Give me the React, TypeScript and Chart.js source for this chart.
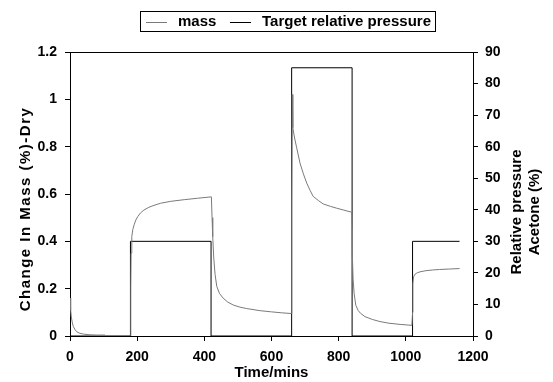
import React, { useEffect, useRef } from "react";
import { Chart, registerables } from "chart.js";

Chart.register(...registerables);

// ---- data ----
const massTime = [
  0, 2, 4, 7, 10, 15, 20, 28, 40, 60, 80, 104, 140,
  180, 181, 182, 184, 187, 191, 196, 202, 210, 220, 235, 250, 270, 300, 340, 380, 421,
  423, 425, 428, 432, 437, 445, 456, 470, 486, 506, 526, 566, 600, 630, 659,
  660, 661, 662, 663, 664, 667, 670, 675, 685, 695, 705, 715, 724, 740, 754, 775, 794, 815, 839,
  840, 841, 843, 846, 851, 858, 865, 878, 900, 923, 950, 983, 1018,
  1020, 1021, 1023, 1028, 1035, 1045, 1060, 1080, 1100, 1130, 1160,
];
const massValue: (number | null)[] = [
  0.16, 0.11, 0.08, 0.055, 0.04, 0.027, 0.018, 0.012, 0.008, 0.005, 0.004, 0.004, null,
  0.0, 0.2, 0.35, 0.42, 0.45, 0.47, 0.49, 0.505, 0.52, 0.532, 0.544, 0.552, 0.561, 0.569, 0.576, 0.582, 0.588,
  0.5, 0.42, 0.33, 0.26, 0.21, 0.18, 0.16, 0.143, 0.131, 0.122, 0.116, 0.107, 0.102, 0.098, 0.095,
  0.1, 0.55, 1.02, 0.93, 0.88, 0.85, 0.828, 0.795, 0.73, 0.685, 0.646, 0.615, 0.59, 0.572, 0.558, 0.548, 0.54, 0.532, 0.523,
  0.45, 0.33, 0.24, 0.18, 0.13, 0.108, 0.096, 0.082, 0.07, 0.061, 0.054, 0.049, 0.045,
  0.1, 0.22, 0.25, 0.262, 0.268, 0.272, 0.276, 0.279, 0.281, 0.283, 0.285,
];
const targetTime = [0, 180, 420, 660, 840, 1020, 1160];
const targetValue = [0, 30, 0, 85, 0, 30, 30];

const leftTickLabels = ["0", "0.2", "0.4", "0.6", "0.8", "1", "1.2"];
const rightTickLabels = ["0", "10", "20", "30", "40", "50", "60", "70", "80", "90"];
const xTickLabels = ["0", "200", "400", "600", "800", "1000", "1200"];

const seriesNames = ["mass", "Target relative pressure"];
const leftTitle = "Change In Mass (%)-Dry";
const rightTitle = ["Relative pressure", "Acetone (%)"];
const xTitle = "Time/mins";

const FONT_FAMILY = "'Liberation Sans', Arial, sans-serif";
const MASS_COLOR = "#7a7a7a";
const TARGET_COLOR = "#000000";

const decorPlugin = {
  id: "decor",
  afterDraw(chart: any) {
    const { ctx, chartArea } = chart;
    const { left, right, top, bottom } = chartArea;
    ctx.save();
    // top border
    ctx.strokeStyle = "#000";
    ctx.lineWidth = 1;
    ctx.beginPath();
    ctx.moveTo(left, top + 0.5);
    ctx.lineTo(right, top + 0.5);
    ctx.stroke();

    // left axis title
    ctx.fillStyle = "#000";
    ctx.font = `bold 15px ${FONT_FAMILY}`;
    ctx.textAlign = "center";
    ctx.textBaseline = "middle";
    try { (ctx as any).letterSpacing = "1.5px"; } catch (e) {}
    ctx.save();
    ctx.translate(25.5, (top + bottom) / 2 + 15);
    ctx.rotate(-Math.PI / 2);
    ctx.fillText(leftTitle, 0, 0);
    ctx.restore();
    try { (ctx as any).letterSpacing = "0px"; } catch (e) {}

    // right axis title (reads bottom to top)
    ctx.save();
    ctx.translate(right + 44, (top + bottom) / 2 + 18);
    ctx.rotate(-Math.PI / 2);
    ctx.fillText(rightTitle[0], 0, 0);
    ctx.fillText(rightTitle[1], 0, 18);
    ctx.restore();

    // legend
    const boxL = 140, boxR = 435, boxT = 11, boxB = 31;
    ctx.strokeStyle = "#000";
    ctx.strokeRect(boxL + 0.5, boxT + 0.5, boxR - boxL, boxB - boxT);
    ctx.font = `bold 15px ${FONT_FAMILY}`;
    ctx.textAlign = "left";
    ctx.textBaseline = "middle";
    const cy = (boxT + boxB) / 2 + 1;
    const items = [
      { x: 146, color: MASS_COLOR, text: seriesNames[0] },
      { x: 230, color: TARGET_COLOR, text: seriesNames[1] },
    ];
    items.forEach((it) => {
      ctx.strokeStyle = it.color;
      ctx.beginPath();
      ctx.moveTo(it.x, Math.round(cy) + 0.5);
      ctx.lineTo(it.x + 21, Math.round(cy) + 0.5);
      ctx.stroke();
      ctx.fillStyle = "#000";
      ctx.fillText(it.text, it.x + 32, cy);
    });
    ctx.restore();
  },
};

export default function App() {
  const ref = useRef<HTMLCanvasElement | null>(null);
  useEffect(() => {
    if (!ref.current) return;
    const tickFont = { family: FONT_FAMILY, size: 14, weight: "bold" as const };
    const chart = new Chart(ref.current, {
      type: "line",
      data: {
        datasets: [
          {
            label: seriesNames[0],
            data: massTime.map((t, i) => ({ x: t, y: massValue[i] })),
            borderColor: MASS_COLOR,
            borderWidth: 1,
            pointRadius: 0,
            fill: false,
            spanGaps: false,
            yAxisID: "y",
            tension: 0,
          },
          {
            label: seriesNames[1],
            data: targetTime.map((t, i) => ({ x: t, y: targetValue[i] })),
            borderColor: TARGET_COLOR,
            borderWidth: 1,
            pointRadius: 0,
            fill: false,
            stepped: "before",
            yAxisID: "y2",
          },
        ],
      },
      options: {
        animation: false,
        responsive: false,
        devicePixelRatio: 1,
        layout: { padding: { top: 52, left: 0, right: 0, bottom: 0 } },
        plugins: { legend: { display: false }, tooltip: { enabled: false } },
        scales: {
          x: {
            type: "linear",
            min: 0,
            max: 1200,
            ticks: {
              stepSize: 200,
              color: "#000",
              font: tickFont,
              padding: 8,
              maxRotation: 0,
              callback: (_v: any, i: number) => xTickLabels[i],
            },
            grid: { drawOnChartArea: false, drawTicks: true, tickLength: 5, color: "#000" },
            border: { display: true, color: "#000", width: 1 },
            title: {
              display: true,
              text: xTitle,
              color: "#000",
              font: { family: FONT_FAMILY, size: 15, weight: "bold" },
              padding: { top: 0, bottom: 0 },
            },
            afterFit: (s: any) => { s.height = 46; },
          },
          y: {
            type: "linear",
            position: "left",
            min: 0,
            max: 1.2,
            ticks: {
              stepSize: 0.2,
              color: "#000",
              font: tickFont,
              padding: 8,
              callback: (_v: any, i: number) => leftTickLabels[i],
            },
            grid: { drawOnChartArea: false, drawTicks: true, tickLength: 5, color: "#000" },
            border: { display: true, color: "#000", width: 1 },
            afterFit: (s: any) => { s.width = 70; },
          },
          y2: {
            type: "linear",
            position: "right",
            min: 0,
            max: 90,
            ticks: {
              stepSize: 10,
              color: "#000",
              font: tickFont,
              padding: 7,
              callback: (_v: any, i: number) => rightTickLabels[i],
            },
            grid: { drawOnChartArea: false, drawTicks: true, tickLength: 5, color: "#000" },
            border: { display: true, color: "#000", width: 1 },
            afterFit: (s: any) => { s.width = 80; },
          },
        },
      } as any,
      plugins: [decorPlugin],
    });
    return () => chart.destroy();
  }, []);
  return (
    <div style={{ position: "absolute", left: 0, top: 0, width: 553, height: 382, background: "#fff" }}>
      <canvas ref={ref} width={553} height={382} />
    </div>
  );
}
